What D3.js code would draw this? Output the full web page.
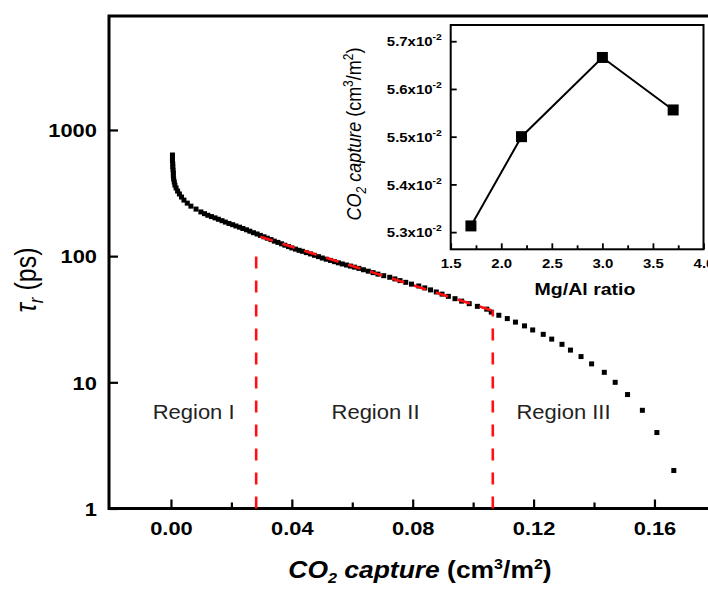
<!DOCTYPE html>
<html>
<head>
<meta charset="utf-8">
<script src="https://cdn.jsdelivr.net/npm/d3@7"></script>
<style>
  body { margin: 0; background: #fff; }
  svg { display: block; font-family: 'Liberation Sans', Arial, sans-serif; }
</style>
</head>
<body>
<svg id="chart" width="708" height="592"></svg>
<script>
// main curve: CO2 capture (cm3/m2) vs tau_r (ps)
const mainCapture = [0.0005, 0.0005, 0.0005, 0.0006, 0.0006, 0.0007, 0.0008, 0.0008, 0.0009, 0.0011,
    0.0013, 0.0017, 0.0022, 0.0028, 0.0035, 0.0043, 0.0054, 0.0066, 0.0083, 0.0099,
    0.0111, 0.0122, 0.0134, 0.0146, 0.0157, 0.0169, 0.0180, 0.0192, 0.0204, 0.0215,
    0.0227, 0.0238, 0.0250, 0.0261, 0.0273, 0.0285, 0.0296, 0.0308, 0.0319, 0.0331,
    0.0342, 0.0354, 0.0366, 0.0377, 0.0389, 0.0400, 0.0412, 0.0424, 0.0435, 0.0448,
    0.0462, 0.0475, 0.0488, 0.0501, 0.0514, 0.0528, 0.0541, 0.0554, 0.0567, 0.0581,
    0.0594, 0.0607, 0.0622, 0.0637, 0.0653, 0.0669, 0.0685, 0.0704, 0.0724, 0.0741,
    0.0758, 0.0777, 0.0796, 0.0820, 0.0840, 0.0859, 0.0878, 0.0897, 0.0918, 0.0940,
    0.0962, 0.0987, 0.1014, 0.1045, 0.1060, 0.1085, 0.1113, 0.1140, 0.1170, 0.1197,
    0.1232, 0.1260, 0.1294, 0.1322, 0.1357, 0.1392, 0.1434, 0.1470, 0.1511, 0.1560,
    0.1608, 0.1664]
const mainTau = [633, 600, 568, 538, 509, 482, 456, 431, 408, 387,
    366, 347, 328, 311, 294, 278, 263, 249, 236, 224,
    217, 210.8, 205.8, 201, 196, 191, 186.2, 181.5, 177.5, 173.4,
    169.6, 165.6, 161.7, 157.6, 153.4, 149.8, 146, 142.3, 138.7, 135.2,
    131.5, 128.5, 125.2, 122.1, 119, 116.2, 113.7, 111.2, 109.2, 106.6,
    104.1, 101.5, 99.1, 96.6, 94.5, 92.5, 90.4, 88.5, 86.7, 85,
    83.4, 81.8, 80, 78, 76, 74, 72, 70, 68, 66,
    64, 62, 60, 58, 56, 54, 52, 50, 48, 46,
    44, 42, 40, 38, 36, 34, 32, 30, 28, 26,
    24, 22, 20, 18, 16, 14, 12, 10, 8, 6,
    4, 2]

// region boundaries (dashed verticals) and the linear fit in region II
const boundCapture = [0.0282, 0.1065]
const boundTopTau = [122, 37.3]
const fitCapture = [0.0296, 0.1060]
const fitTau = [142.3, 37.3]

const regionNames = ['Region I', 'Region II', 'Region III']
const regionCapture = [0.0075, 0.0677, 0.1299]
const regionTau = [5.1, 5.1, 5.1]

const xTicks = [0, 0.04, 0.08, 0.12, 0.16]
const xMinorTicks = [0.02, 0.06, 0.10, 0.14]
const yTicks = [1, 10, 100, 1000]

// inset
const mgAlRatio = [1.7, 2.2, 3.0, 3.7]
const insetCapture = [0.05313, 0.05500, 0.05666, 0.05556]
const insetXTicks = [1.5, 2.0, 2.5, 3.0, 3.5, 4.0]
const insetXMinor = [1.75, 2.25, 2.75, 3.25, 3.75]
const insetYTicks = [0.053, 0.054, 0.055, 0.056, 0.057]

const svg = d3.select('#chart')
const STRETCH = 1.15  // the source picture is a bit wider than tall

const x = d3.scaleLinear().domain([-0.0205, 0.18]).range([109, 714.9])
const y = d3.scaleLog().domain([1, 8000]).range([508.5, 16])

// frame
svg.append('rect')
    .attr('x', 109).attr('y', 16)
    .attr('width', 606).attr('height', 492.5)
    .attr('fill', 'none').attr('stroke', '#000').attr('stroke-width', 3)

// x axis
const xAxis = svg.append('g')
    .attr('transform', 'translate(0,508.5)')
    .call(d3.axisBottom(x).tickValues(xTicks).tickFormat(d3.format('.2f'))
        .tickSizeInner(-9).tickSizeOuter(0).tickPadding(13))
svg.append('g')
    .attr('transform', 'translate(0,508.5)')
    .call(d3.axisBottom(x).tickValues(xMinorTicks).tickFormat('')
        .tickSizeInner(-6).tickSizeOuter(0))

// y axis
const yAxis = svg.append('g')
    .attr('transform', 'translate(109,0)')
    .call(d3.axisLeft(y).tickValues(yTicks).tickFormat(d3.format('d'))
        .tickSizeInner(-9).tickSizeOuter(0).tickPadding(10.5))

svg.selectAll('.domain').remove()
svg.selectAll('.tick line').attr('stroke-width', 2.2)
svg.selectAll('.tick text')
    .attr('font-family', "'Liberation Sans', Arial, sans-serif")
    .attr('font-size', 19).attr('font-weight', 'bold').attr('fill', '#000')
    .attr('transform', `scale(${STRETCH},1)`)
yAxis.selectAll('.tick text').attr('dy', '0.36em')

// data squares
const pts = mainCapture.map((c, i) => ({c: c, t: mainTau[i]}))
svg.append('g').selectAll('rect.point')
    .data(pts)
    .join('rect')
    .attr('class', 'point')
    .attr('x', d => x(d.c) - 2.5)
    .attr('y', d => y(d.t) - 2.5)
    .attr('width', 5).attr('height', 5)
    .attr('fill', '#000')

// red dashed lines
const line = d3.line().x(d => x(d[0])).y(d => y(d[1]))
boundCapture.forEach((c, i) => {
    svg.append('path')
        .attr('d', line([[c, 1], [c, boundTopTau[i]]]))
        .attr('stroke', '#ff1010').attr('stroke-width', 2.6)
        .attr('stroke-dasharray', '12,12').attr('fill', 'none')
})
svg.append('path')
    .attr('d', line(fitCapture.map((c, i) => [c, fitTau[i]])))
    .attr('stroke', '#ff1010').attr('stroke-width', 2.6)
    .attr('stroke-dasharray', '13,10').attr('fill', 'none')

// region labels
regionNames.forEach((name, i) => {
    svg.append('text')
        .attr('transform', `translate(${x(regionCapture[i])},${y(regionTau[i])}) scale(1.1,1)`)
        .attr('text-anchor', 'middle')
        .attr('font-size', 20).attr('fill', '#222')
        .text(name)
})

// axis titles
const xt = svg.append('text')
    .attr('transform', `translate(420,578) scale(${STRETCH},1)`)
    .attr('text-anchor', 'middle')
    .attr('font-size', 23).attr('font-weight', 'bold')
xt.append('tspan').attr('font-style', 'italic').text('CO')
xt.append('tspan').attr('font-style', 'italic').attr('font-size', 14).attr('dy', 5).text('2')
xt.append('tspan').attr('font-style', 'italic').attr('dy', -5).text(' capture')
xt.append('tspan').text(' (cm')
xt.append('tspan').attr('font-size', 14).attr('dy', -9).text('3')
xt.append('tspan').attr('dy', 9).text('/m')
xt.append('tspan').attr('font-size', 14).attr('dy', -9).text('2')
xt.append('tspan').attr('dy', 9).text(')')

const yt = svg.append('text')
    .attr('transform', `translate(36,280) scale(${STRETCH},1) rotate(-90)`)
    .attr('text-anchor', 'middle')
    .attr('font-size', 25)
yt.append('tspan').attr('font-style', 'italic').text('τ')
yt.append('tspan').attr('font-style', 'italic').attr('font-size', 17).attr('dy', 6).text('r')
yt.append('tspan').attr('dy', -6).text(' (ps)')

// ---- inset ----
const xi = d3.scaleLinear().domain([1.5, 4.0]).range([450.7, 703.5])
const yi = d3.scaleLinear().domain([0.05264, 0.05734]).range([249.3, 25])
const inset = svg.append('g')

inset.append('rect')
    .attr('x', 450.7).attr('y', 25)
    .attr('width', 252.8).attr('height', 224.3)
    .attr('fill', '#fff').attr('stroke', '#000').attr('stroke-width', 2)

inset.append('g')
    .attr('transform', 'translate(0,249.3)')
    .call(d3.axisBottom(xi).tickValues(insetXTicks).tickFormat(d3.format('.1f'))
        .tickSizeInner(-6).tickSizeOuter(0).tickPadding(9.7))
inset.append('g')
    .attr('transform', 'translate(0,249.3)')
    .call(d3.axisBottom(xi).tickValues(insetXMinor).tickFormat('')
        .tickSizeInner(-4).tickSizeOuter(0))
const iy = inset.append('g')
    .attr('transform', 'translate(450.7,0)')
    .call(d3.axisLeft(yi).tickValues(insetYTicks).tickFormat('')
        .tickSizeInner(-6).tickSizeOuter(0).tickPadding(7.8))

inset.selectAll('.domain').remove()
inset.selectAll('.tick line').attr('stroke-width', 1.8)
inset.selectAll('.tick text')
    .attr('font-family', "'Liberation Sans', Arial, sans-serif")
    .attr('font-size', 13).attr('font-weight', 'bold').attr('fill', '#000')
    .attr('transform', `scale(${STRETCH},1)`)
iy.selectAll('.tick text')
    .attr('dy', '0.36em')
    .each(function (d) {
        const t = d3.select(this).text(null)
        t.append('tspan').text((d * 100).toFixed(1) + 'x10')
        t.append('tspan').attr('font-size', 9).attr('dy', -6).text('-2')
    })

const insetPts = mgAlRatio.map((r, i) => [r, insetCapture[i]])
inset.append('path')
    .attr('d', d3.line().x(d => xi(d[0])).y(d => yi(d[1]))(insetPts))
    .attr('fill', 'none').attr('stroke', '#000').attr('stroke-width', 2)
inset.selectAll('rect.ipt')
    .data(insetPts)
    .join('rect')
    .attr('class', 'ipt')
    .attr('x', d => xi(d[0]) - 5.5)
    .attr('y', d => yi(d[1]) - 5.5)
    .attr('width', 11).attr('height', 11)
    .attr('fill', '#000')

inset.append('text')
    .attr('transform', `translate(585,295) scale(${STRETCH},1)`)
    .attr('text-anchor', 'middle')
    .attr('font-size', 17).attr('font-weight', 'bold')
    .text('Mg/Al ratio')

const iyt = inset.append('text')
    .attr('transform', `translate(361,134) scale(${STRETCH},1) rotate(-90)`)
    .attr('text-anchor', 'middle')
    .attr('font-size', 18)
iyt.append('tspan').attr('font-style', 'italic').text('CO')
iyt.append('tspan').attr('font-style', 'italic').attr('font-size', 12).attr('dy', 4).text('2')
iyt.append('tspan').attr('font-style', 'italic').attr('dy', -4).text(' capture')
iyt.append('tspan').text(' (cm')
iyt.append('tspan').attr('font-size', 12).attr('dy', -7).text('3')
iyt.append('tspan').attr('dy', 7).text('/m')
iyt.append('tspan').attr('font-size', 12).attr('dy', -7).text('2')
iyt.append('tspan').attr('dy', 7).text(')')
</script>
</body>
</html>
